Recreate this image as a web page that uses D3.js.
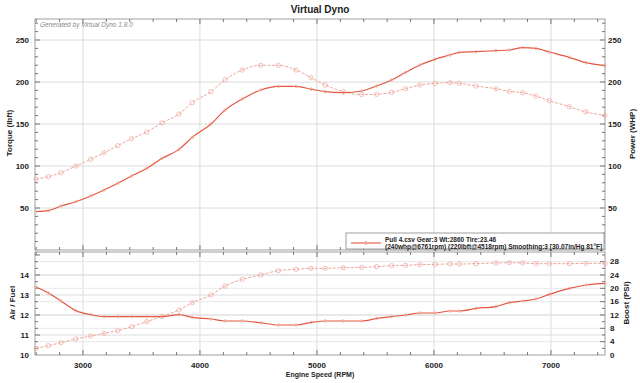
<!DOCTYPE html>
<html><head><meta charset="utf-8">
<script src="https://cdn.jsdelivr.net/npm/d3@7"></script>
<style>
html,body{margin:0;padding:0;background:#fff;}
svg{display:block;font-family:"Liberation Sans",Arial,sans-serif;}
</style></head>
<body>
<svg id="c" width="640" height="383"></svg>
<script>
const rpm = [2599,2704,2812,2938,3066,3180,3297,3416,3545,3675,3821,3934,4094,4214,4362,4519,4670,4821,4949,5071,5225,5382,5510,5638,5758,5880,6009,6137,6217,6359,6530,6644,6758,6872,6986,7157,7299,7462];
const torque = [84.2,87.3,92,100,108,115.8,124.2,132.5,140.5,151.2,161.9,175.4,188.5,202.7,214.3,219.9,219.9,214.3,205.2,196.4,188.5,184.9,185.3,187.7,192,196.4,198.4,199.2,198.4,195.2,192,188.9,187.3,183.3,177.8,170.6,164.3,160.3];
const power = [45.6,46.8,52.4,57.5,64.3,71.4,79.4,88.1,97.2,109.1,119.8,134.1,150,166.5,179.8,190.5,194.8,194.8,191.5,188.5,187.3,189.3,195.2,202.4,211.5,220.2,227,232.1,235.3,236.1,237.3,238.1,240.9,240.1,235.7,229.4,223,219.4];
const afr = [13.4,13.1,12.7,12.22,12.02,11.92,11.92,11.92,11.92,11.92,12.02,11.88,11.8,11.7,11.7,11.61,11.5,11.5,11.63,11.7,11.7,11.7,11.83,11.92,12.0,12.1,12.1,12.2,12.2,12.33,12.42,12.62,12.7,12.8,13.03,13.33,13.5,13.58];
const boost = [2.0,2.8,3.7,4.8,5.7,6.5,7.3,8.5,10.0,11.6,13.5,15.7,18.0,20.7,22.7,24.0,25.3,25.7,26.0,26.0,26.2,26.3,26.5,26.8,26.9,27.1,27.2,27.3,27.3,27.4,27.6,27.7,27.6,27.4,27.4,27.4,27.5,27.5];
const xTicks = [3000,4000,5000,6000,7000];
const topTicks = [50,100,150,200,250];
const afrTicks = [10,11,12,13,14];
const boostTicks = [0,4,8,12,16,20,24,28];
const legendLines = ["Pull 4.csv Gear:3 Wt:2860 Tire:23.46","(240whp@6761rpm) (220lbft@4518rpm) Smoothing:3 [30.07in/Hg 81\u00B0F]"];

const svg = d3.select("#c");
const L = 35, R = 605;
const T1 = 19, B1 = 250, T2 = 252, B2 = 355;
const x = d3.scaleLinear().domain([2590, 7462]).range([L, R]);
const yT = d3.scaleLinear().domain([0, 275]).range([B1, T1]);
const yA = d3.scaleLinear().domain([10, 15.15]).range([B2, T2]);
const yB = d3.scaleLinear().domain([0, 30.9]).range([B2, T2]);

const dark = "#e2583e", light = "#eea79c", grid = "#dcdcdc", axisC = "#555";

svg.append("text").attr("x",320).attr("y",13).attr("text-anchor","middle")
  .attr("font-size",10).attr("font-weight","bold").attr("fill","#222").text("Virtual Dyno");

function vgrid(t,b){
  svg.append("g").selectAll("line").data(xTicks).join("line")
    .attr("x1",d=>x(d)).attr("x2",d=>x(d)).attr("y1",t).attr("y2",b)
    .attr("stroke",grid).attr("stroke-width",1);
}
vgrid(T1,B1); vgrid(T2,B2);
svg.append("g").selectAll("line").data(topTicks).join("line")
  .attr("x1",L).attr("x2",R).attr("y1",d=>yT(d)).attr("y2",d=>yT(d)).attr("stroke",grid);
svg.append("g").selectAll("line").data(boostTicks.slice(1)).join("line")
  .attr("x1",L).attr("x2",R).attr("y1",d=>yB(d)).attr("y2",d=>yB(d)).attr("stroke","#e8e8e8");
svg.append("g").selectAll("line").data(afrTicks.slice(1)).join("line")
  .attr("x1",L).attr("x2",R).attr("y1",d=>yA(d)).attr("y2",d=>yA(d)).attr("stroke",grid);

[[T1,B1],[T2,B2]].forEach(([t,b])=>{
  svg.append("rect").attr("x",L).attr("y",t).attr("width",R-L).attr("height",b-t)
    .attr("fill","none").attr("stroke","#888").attr("stroke-width",0.8);
});

const xMinor = d3.range(2600, 7462, 200);
function xTickMarks(yy, dir){
  svg.append("g").selectAll("line").data(xMinor).join("line")
    .attr("x1",d=>x(d)).attr("x2",d=>x(d)).attr("y1",yy)
    .attr("y2",d=> yy + dir*(d%1000===0?5:3)).attr("stroke",axisC).attr("stroke-width",0.8);
}
xTickMarks(T1,1); xTickMarks(B1,-1); xTickMarks(T2,1); xTickMarks(B2,-1);

function yTickMarks(scale, vals, xx, dir, majorFn){
  svg.append("g").selectAll("line").data(vals).join("line")
    .attr("y1",d=>scale(d)).attr("y2",d=>scale(d)).attr("x1",xx)
    .attr("x2",d=> xx + dir*(majorFn(d)?5:3)).attr("stroke",axisC).attr("stroke-width",0.8);
}
const tMinor = d3.range(10, 275, 10);
yTickMarks(yT, tMinor, L, 1, d=>d%50===0);
yTickMarks(yT, tMinor, R, -1, d=>d%50===0);
const bMinor = d3.range(2, 31, 2);
yTickMarks(yB, bMinor, L, 1, d=>d%6===0);
yTickMarks(yB, bMinor, R, -1, d=>d%4===0);

function label(xx,yy,t,anchor){
  svg.append("text").attr("x",xx).attr("y",yy).attr("text-anchor",anchor)
    .attr("font-size",8).attr("font-weight","bold").attr("fill","#222")
    .attr("dominant-baseline","central").text(t);
}
topTicks.forEach(d=>{ label(L-6,yT(d),d,"end"); label(R+3,yT(d),d,"start"); });
afrTicks.forEach(d=>label(L-6,yA(d),d,"end"));
boostTicks.forEach(d=>label(R+5,yB(d),d,"start"));
xTicks.forEach(d=>label(x(d),365,d,"middle"));

function vtitle(xx,yy,t){
  svg.append("text").attr("transform",`translate(${xx},${yy}) rotate(-90)`)
    .attr("text-anchor","middle").attr("dominant-baseline","central")
    .attr("font-size",8).attr("font-weight","bold").attr("fill","#222").text(t);
}
vtitle(9,133,"Torque (lbft)");
vtitle(632,134,"Power (WHP)");
vtitle(12,303,"Air / Fuel");
vtitle(626,303,"Boost (PSI)");
svg.append("text").attr("x",320).attr("y",377).attr("text-anchor","middle")
  .attr("font-size",7).attr("font-weight","bold").attr("fill","#222").text("Engine Speed (RPM)");

svg.append("text").attr("x",40).attr("y",27).attr("font-size",6.5).attr("font-style","italic")
  .attr("fill","#8a8a8a").text("Generated by Virtual Dyno 1.8.0");

function series(vals, ys, color, dash, width, r, mcolor){
  const pts = rpm.map((d,i)=>[x(d), ys(vals[i])]);
  const line = d3.line().curve(d3.curveMonotoneX);
  svg.append("path").attr("d",line(pts)).attr("fill","none").attr("stroke",color)
    .attr("stroke-width",width).attr("stroke-dasharray",dash);
  svg.append("g").selectAll("circle").data(pts).join("circle")
    .attr("cx",d=>d[0]).attr("cy",d=>d[1]).attr("r",r)
    .attr("fill","none").attr("stroke",mcolor).attr("stroke-width",0.7);
}
series(torque, yT, light, "3,1.5", 1, 2.2, light);
series(power, yT, dark, null, 1.2, 1.4, "#f0b0a6");
series(boost, yB, light, "3,1.5", 1, 2.2, light);
series(afr, yA, dark, null, 1.2, 1.4, "#f0b0a6");

svg.append("rect").attr("x",346).attr("y",233).attr("width",258).attr("height",16)
  .attr("fill","#fff").attr("stroke","#888").attr("stroke-width",0.8);
svg.append("line").attr("x1",351).attr("x2",381).attr("y1",243).attr("y2",243)
  .attr("stroke",dark).attr("stroke-width",1.1);
svg.append("circle").attr("cx",366).attr("cy",243).attr("r",1.5).attr("fill","none").attr("stroke","#f0b0a6");
legendLines.forEach((t,i)=>{
  svg.append("text").attr("x",385).attr("y",239.5+i*6.5).attr("dominant-baseline","central")
    .attr("font-size",6.5).attr("font-weight","bold").attr("fill","#222").text(t);
});
</script>
</body></html>
